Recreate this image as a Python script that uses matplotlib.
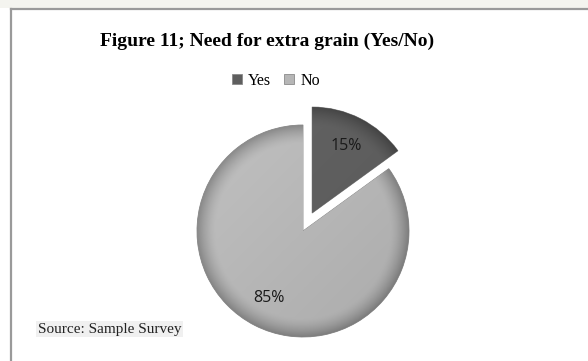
import matplotlib.pyplot as plt
import numpy as np
from matplotlib.patches import Rectangle
from matplotlib.lines import Line2D

# survey answers
labels = ['Yes', 'No']
shares = [15, 85]
colors = ['#5e5e5e', '#b6b6b6']
explode = [0.19, 0]

W, H = 588, 361
fig = plt.figure(figsize=(W / 100, H / 100), dpi=100)
fig.patch.set_facecolor('white')

# thin off-white band and grey frame lines
fig.add_artist(Rectangle((0, 1 - 8 / H), 1, 8 / H, transform=fig.transFigure,
                         facecolor='#f4f4ef', edgecolor='none'))
fig.add_artist(Line2D([11 / W, 1], [1 - 9 / H, 1 - 9 / H], transform=fig.transFigure,
                      color='#9a9a9a', lw=1.6))
fig.add_artist(Line2D([11 / W, 11 / W], [0, 1 - 9 / H], transform=fig.transFigure,
                      color='#9a9a9a', lw=1.6))

# pie axes: centre at (303, 231) px, radius 106 px
cx, cy, r_px = 303, 231, 106
side = 290
ax = fig.add_axes([(cx - side / 2) / W, (H - cy - side / 2) / H, side / W, side / H])
lim = side / 2 / r_px

wedges, texts, autotexts = ax.pie(
    shares, colors=colors, explode=explode, startangle=90, counterclock=False,
    autopct='%1.0f%%', pctdistance=0.71, frame=True,
    wedgeprops=dict(edgecolor='#8a8a8a', linewidth=0.6),
    textprops=dict(fontsize=11.5, color='#1a1a1a', family='Open Sans'))
ax.set_xlim(-lim, lim)
ax.set_ylim(-lim, lim)
ax.set_aspect('equal')
ax.axis('off')

# bevel-like shading clipped to each wedge
n = 400
gx, gy = np.meshgrid(np.linspace(-1.6, 1.6, n), np.linspace(-1.6, 1.6, n))
for w, base in zip(wedges, colors):
    c = np.array([int(base[i:i + 2], 16) for i in (1, 3, 5)]) / 255
    ox, oy = w.center
    rr = np.hypot(gx - ox, gy - oy)
    shade = 1 - 0.28 * np.clip((rr - 0.82) / 0.18, 0, 1) ** 1.5
    shade = shade + 0.06 * np.clip(((gy - oy) - (gx - ox)) / 2, -1, 1)
    img = np.clip(c[None, None, :] * shade[..., None], 0, 1)
    im = ax.imshow(img, extent=(-1.6, 1.6, -1.6, 1.6), origin='lower',
                   interpolation='bilinear', zorder=w.get_zorder() + 0.1)
    im.set_clip_path(w)
for t in autotexts:
    t.set_zorder(5)

fig.text(267 / W, 1 - 41 / H, 'Figure 11; Need for extra grain (Yes/No)',
         ha='center', va='center', fontsize=14, fontweight='bold',
         family='Liberation Serif')

leg = fig.legend(wedges, labels, loc='center', bbox_to_anchor=(276 / W, 1 - 81 / H),
                 ncol=2, frameon=False, handlelength=0.6, handleheight=0.6,
                 handletextpad=0.4, columnspacing=0.8,
                 prop=dict(family='Liberation Serif', size=11.5))

fig.text(38 / W, 1 - 329 / H, 'Source: Sample Survey', ha='left', va='center',
         fontsize=11, family='Liberation Serif', color='#222222',
         bbox=dict(boxstyle='square,pad=0.12', facecolor='#f0f0f0', edgecolor='none'))

fig.savefig('out.png', dpi=100)
